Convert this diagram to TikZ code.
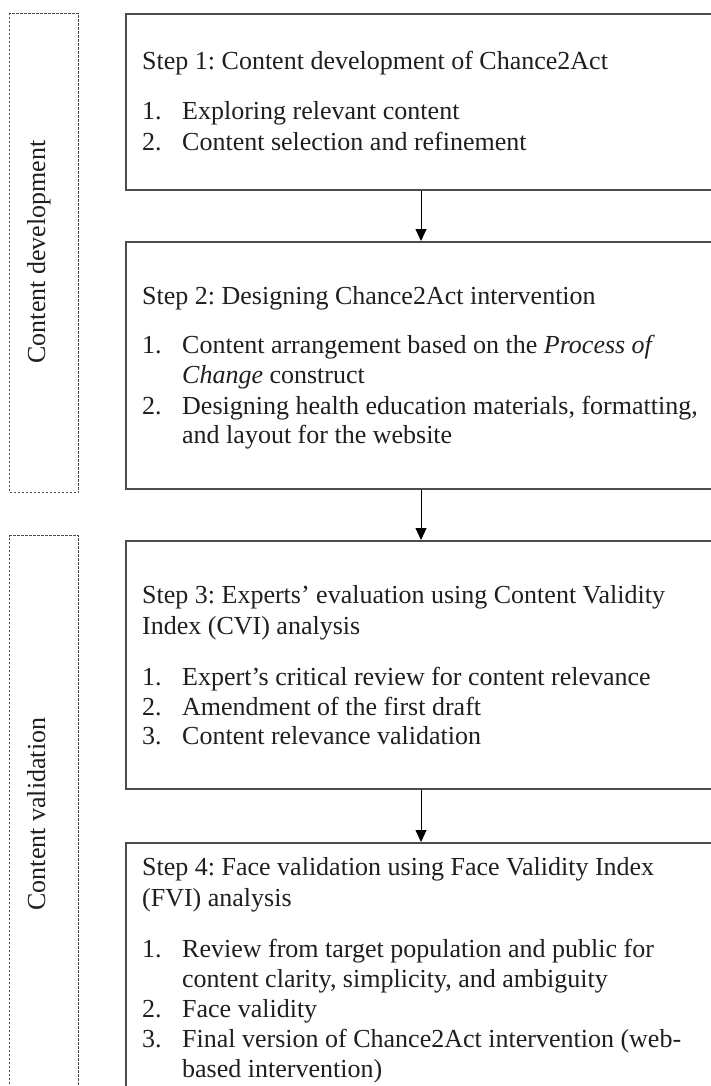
\documentclass[tikz,border=0pt]{standalone}
\usepackage{fontspec}
\setmainfont{Liberation Serif}
\usetikzlibrary{arrows.meta}
\newcommand\myfs{\fontsize{26}{30}\selectfont\frenchspacing}
\begin{document}
\begin{tikzpicture}[x=1pt,y=-1pt,
  box/.style={draw=black!70, line width=1.6pt, anchor=north west, inner sep=0pt, minimum width=700pt},
  dbox/.style={draw=black!70, line width=1.3pt, dash pattern=on 2.5pt off 1.5pt, anchor=north west, inner sep=0pt, minimum width=69pt},
  txt/.style={anchor=base west, inner sep=0pt, font=\myfs, text=black!88},
  side/.style={anchor=base, inner sep=0pt, font=\myfs, text=black!88, rotate=90},
  arr/.style={draw=black, line width=0.9pt, -{Triangle[width=11pt,length=12pt]}}]
\useasboundingbox (0,0) rectangle (711,1086);
\clip (0,0) rectangle (711,1086);
\fill[white] (0,0) rectangle (711,1086);

% side groups
\node[dbox, minimum height=479pt] (d1) at (9,13) {};
\node[dbox, minimum height=600pt] (d2) at (9,535) {};
\node[side] (l1) at (45,252) {Content development};
\node[side] (l2) at (45,814) {Content validation};

% step boxes
\node[box, minimum height=176pt] (b1) at (125,13) {};
\node[box, minimum height=247pt] (b2) at (125,241) {};
\node[box, minimum height=248pt] (b3) at (125,540) {};
\node[box, minimum height=300pt] (b4) at (125,842) {};

% arrows
\coordinate (ax) at (421,0);
\draw[arr] (b1.south -| ax) -- (b2.north -| ax);
\draw[arr] (b2.south -| ax) -- (b3.north -| ax);
\draw[arr] (b3.south -| ax) -- (b4.north -| ax);

% step 1
\node[txt] (s1t) at (142,70) {Step 1: Content development of Chance2Act};
\node[txt] (s1n1) at (142,120) {1.};
\node[txt] (s1i1) at (182,120) {Exploring relevant content};
\node[txt] (s1n2) at (142,151) {2.};
\node[txt] (s1i2) at (182,151) {Content selection and refinement};

% step 2
\node[txt] (s2t) at (142,304) {Step 2: Designing Chance2Act intervention};
\node[txt] (s2n1) at (142,353) {1.};
\node[txt] (s2i1a) at (182,353) {Content arrangement based on the \textit{Process of}};
\node[txt] (s2i1b) at (182,383) {\textit{Change} construct};
\node[txt] (s2n2) at (142,414) {2.};
\node[txt] (s2i2a) at (182,414) {Designing health education materials, formatting,};
\node[txt] (s2i2b) at (182,443) {and layout for the website};

% step 3
\node[txt] (s3ta) at (142,603) {Step 3: Experts’ evaluation using Content Validity};
\node[txt] (s3tb) at (142,634) {Index (CVI) analysis};
\node[txt] (s3n1) at (142,685) {1.};
\node[txt] (s3i1) at (182,685) {Expert’s critical review for content relevance};
\node[txt] (s3n2) at (142,715) {2.};
\node[txt] (s3i2) at (182,715) {Amendment of the first draft};
\node[txt] (s3n3) at (142,744) {3.};
\node[txt] (s3i3) at (182,744) {Content relevance validation};

% step 4
\node[txt] (s4ta) at (142,875) {Step 4: Face validation using Face Validity Index};
\node[txt] (s4tb) at (142,906) {(FVI) analysis};
\node[txt] (s4n1) at (142,957) {1.};
\node[txt] (s4i1a) at (182,957) {Review from target population and public for};
\node[txt] (s4i1b) at (182,987) {content clarity, simplicity, and ambiguity};
\node[txt] (s4n2) at (142,1017) {2.};
\node[txt] (s4i2) at (182,1017) {Face validity};
\node[txt] (s4n3) at (142,1047) {3.};
\node[txt] (s4i3a) at (182,1047) {Final version of Chance2Act intervention (web-};
\node[txt] (s4i3b) at (182,1077) {based intervention)};
\end{tikzpicture}
\end{document}
